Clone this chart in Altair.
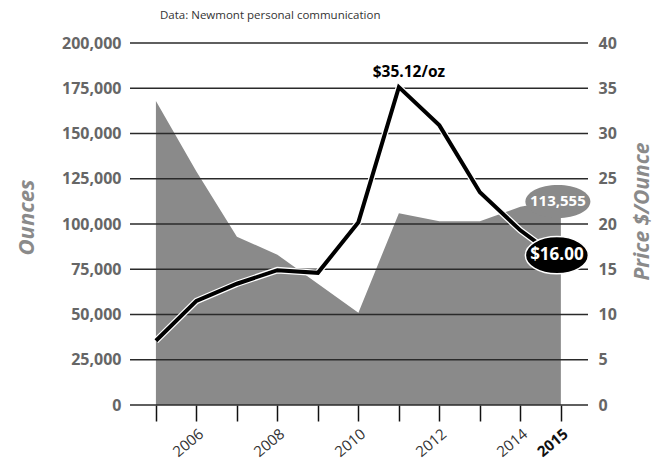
import altair as alt
import pandas as pd

# ---- data ----
years = list(range(2005, 2016))
ounces = [168000, 129000, 93000, 83000, 67000, 51000, 106000, 101500, 101500, 109500, 113555]
price = [7.1, 11.5, 13.4, 14.9, 14.6, 20.2, 35.12, 30.9, 23.5, 19.3, 16.0]
ounce_ticks = [0, 25000, 50000, 75000, 100000, 125000, 150000, 175000, 200000]
price_ticks = [0, 5, 10, 15, 20, 25, 30, 35, 40]
source_note = "Data: Newmont personal communication"
left_title = "Ounces"
right_title = "Price $/Ounce"

df = pd.DataFrame({"year": years, "ounces": ounces, "price": price})
grid_df = pd.DataFrame({"ounces": ounce_ticks})

FONT = "Open Sans"
AREA_GREY = "#8a8a8a"
ELLIPSE_GREY = "M-1,0A1,0.51,0,1,1,1,0A1,0.51,0,1,1,-1,0Z"
ELLIPSE_BLACK = "M-1,0A1,0.59,0,1,1,1,0A1,0.59,0,1,1,-1,0Z"

x_scale = alt.Scale(domain=[2004.36, 2015.67], nice=False, zero=False)
y_left = alt.Scale(domain=[0, 200000], nice=False, zero=False)
y_right = alt.Scale(domain=[0, 40], nice=False, zero=False)

x_axis = alt.Axis(
    values=years, format="d", title=None, grid=False, domain=False,
    ticks=True, tickSize=16, tickColor="#111", tickWidth=1.5,
    labelAngle=-40, labelAlign="right", labelBaseline="top", labelPadding=5,
    labelOverlap=False, labelFont=FONT, labelFontSize=15,
    labelExpr="(datum.value % 2 == 0 || datum.value == 2015) ? datum.label : ''",
    labelFontWeight={"condition": {"test": "datum.value == 2015", "value": "bold"}, "value": "normal"},
    labelColor={"condition": {"test": "datum.value == 2015", "value": "#111"}, "value": "#333"},
)

common_y = dict(
    grid=False, ticks=False, domain=False, labelFont=FONT, labelFontSize=16,
    labelFontWeight="bold", labelColor="#666", titleFont=FONT,
    titleFontWeight="bold", titleFontStyle="italic", titleColor="#8a8a8a",
    titleAngle=270, titleAlign="center", titleBaseline="middle",
)

left_axis = alt.Axis(values=ounce_ticks, format=",d", orient="left", labelPadding=9,
                     title=left_title, titleX=-104, titleY=174, titleFontSize=22, **common_y)
right_axis = alt.Axis(values=price_ticks, format="d", orient="right", labelPadding=10,
                      title=right_title, titleX=54, titleY=168, titleFontSize=21, **common_y)

X = alt.X("year:Q", scale=x_scale, axis=x_axis)
YoN = alt.Y("ounces:Q", scale=y_left, axis=None)
YpN = alt.Y("price:Q", scale=y_right, axis=None)

area = alt.Chart(df).mark_area(color=AREA_GREY, opacity=1).encode(
    x=X, y=alt.Y("ounces:Q", scale=y_left, axis=left_axis, stack=None)
)
grid = alt.Chart(grid_df).mark_rule(color="#2a2a2a", strokeWidth=1.5).encode(y=YoN)
last_ounce = alt.Chart(df).transform_filter("datum.year == 2015")
grey_oval = last_ounce.mark_point(
    shape=ELLIPSE_GREY, size=65 * 65, filled=True, fill=AREA_GREY, opacity=1,
    strokeWidth=0, xOffset=-3, yOffset=2
).encode(x=X, y=YoN)
grey_text = last_ounce.mark_text(
    font=FONT, fontSize=15, fontWeight="bold", color="white", dx=-3, dy=2, baseline="middle"
).encode(x=X, y=YoN, text=alt.Text("ounces:Q", format=",d"))

halo = alt.Chart(df).mark_line(color="white", strokeWidth=6.5).encode(
    x=X, y=alt.Y("price:Q", scale=y_right, axis=right_axis))
line = alt.Chart(df).mark_line(color="black", strokeWidth=4).encode(x=X, y=YpN)
peak = alt.Chart(df).transform_filter("datum.year == 2011").transform_calculate(
    lab="'$' + format(datum.price, '.2f') + '/oz'"
).mark_text(font=FONT, fontSize=15.5, fontWeight="bold", color="black", dx=10, dy=-15,
            baseline="middle").encode(x=X, y=YpN, text="lab:N")
last_price = alt.Chart(df).transform_filter("datum.year == 2015")
black_oval = last_price.mark_point(
    shape=ELLIPSE_BLACK, size=63 * 63, filled=True, fill="black", opacity=1,
    stroke="white", strokeWidth=1.5, xOffset=-4, yOffset=-5
).encode(x=X, y=YpN)
black_text = last_price.mark_text(
    font=FONT, fontSize=17, fontWeight="bold", color="white", dx=-4, dy=-5, baseline="middle"
).encode(x=X, y=YpN, text=alt.Text("price:Q", format="$.2f"))

chart = alt.layer(
    area, grid, grey_oval, grey_text, halo, line, peak, black_oval, black_text
).resolve_scale(y="independent").properties(
    width=458, height=362,
    padding={"left": 122, "top": 35, "right": 65, "bottom": 56},
    autosize=alt.AutoSizeParams(type="none"),
    background="white",
    title=alt.TitleParams(
        text=source_note, anchor="start", frame="group", dx=30, offset=14,
        font=FONT, fontSize=11.5, fontWeight="normal", color="#333",
    ),
).configure_view(stroke=None)

chart.save("out.html", embed_options={"renderer": "svg", "actions": False})
